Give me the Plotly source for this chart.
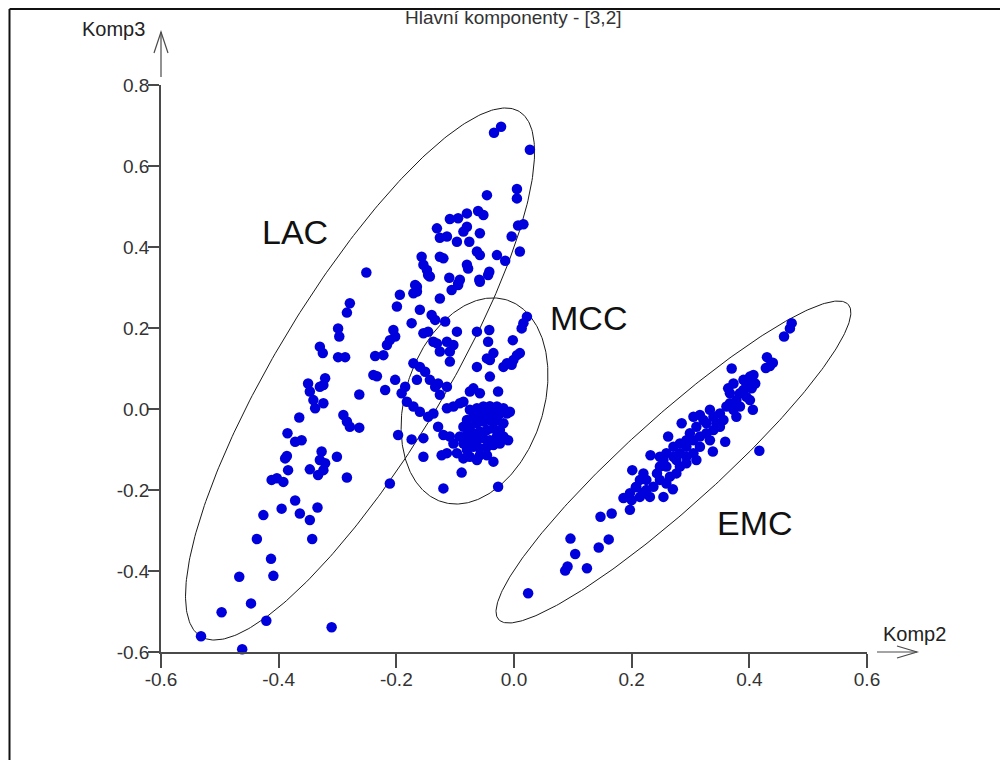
import numpy as np
import plotly.graph_objects as go

# ---------------- data (Komp2, Komp3) ----------------
EMC_x = [0.472, 0.469, 0.459, 0.430, 0.440, 0.428, 0.435, 0.370, 0.406, 0.417, 0.359, 0.338, 0.285, 0.262,
         0.232, 0.231, 0.254, 0.270, 0.201, 0.214, 0.219, 0.207, 0.186, 0.200, 0.197, 0.147, 0.166, 0.096,
         0.161, 0.144, 0.104, 0.091, 0.087, 0.124, 0.024,
         0.305, 0.316, 0.333, 0.339, 0.350, 0.361, 0.367, 0.373, 0.344, 0.327, 0.310, 0.299, 0.293, 0.282,
         0.305, 0.316, 0.327, 0.339, 0.350, 0.356, 0.378, 0.384, 0.395, 0.401, 0.390, 0.373, 0.367, 0.364,
         0.390, 0.404, 0.282, 0.271, 0.259, 0.254, 0.248, 0.243, 0.259, 0.276, 0.293, 0.305, 0.310, 0.293,
         0.282, 0.276, 0.265, 0.259, 0.248, 0.237, 0.220, 0.225, 0.208, 0.197, 0.214, 0.225, 0.316, 0.333,
         0.407, 0.410, 0.395, 0.401, 0.384, 0.378, 0.322, 0.293, 0.271, 0.248]
EMC_y = [0.212, 0.199, 0.179, 0.128, 0.114, 0.101, 0.106, 0.100, -0.002, -0.103, -0.081, -0.105, -0.035, -0.068,
         -0.114, -0.217, -0.217, -0.198, -0.151, -0.175, -0.207, -0.193, -0.220, -0.225, -0.249, -0.266, -0.258, -0.320,
         -0.322, -0.342, -0.358, -0.389, -0.399, -0.393, -0.455,
         -0.019, -0.015, -0.002, -0.019, -0.011, 0.006, 0.014, -0.002, -0.035, -0.035, -0.044, -0.060, -0.077, -0.085,
         -0.077, -0.068, -0.060, -0.052, -0.044, -0.027, 0.022, 0.039, 0.063, 0.080, 0.072, 0.063, 0.039, 0.051,
         0.047, 0.051, -0.109, -0.118, -0.109, -0.126, -0.142, -0.159, -0.142, -0.126, -0.118, -0.109, -0.126, -0.134,
         -0.142, -0.159, -0.167, -0.184, -0.175, -0.192, -0.159, -0.175, -0.192, -0.208, -0.217, -0.200, -0.093, -0.077,
         0.084, 0.063, 0.030, 0.022, 0.006, -0.019, -0.027, -0.093, -0.093, -0.118]

MCC_x = [0.022, 0.016, 0.013, -0.002, 0.005, 0.010, -0.001, -0.012, -0.018, -0.004, -0.042, -0.063, -0.044,
         -0.035, -0.041, -0.046, -0.063, -0.041, -0.027, -0.069, -0.075, -0.058, -0.097, -0.117, -0.109, -0.092,
         -0.103, -0.114, -0.086,
         -0.075, -0.063, -0.052, -0.041, -0.029, -0.018, -0.012, -0.007, -0.024, -0.035, -0.046, -0.058, -0.069,
         -0.080, -0.086, -0.075, -0.063, -0.052, -0.041, -0.029, -0.018, -0.024, -0.035, -0.046, -0.058, -0.069,
         -0.080, -0.092, -0.103, -0.086, -0.075, -0.063, -0.052, -0.041, -0.029, -0.018, -0.010, -0.024, -0.035,
         -0.046, -0.058, -0.069, -0.080, -0.075, -0.058, -0.046, -0.109, -0.120, -0.123, -0.114, -0.097, -0.086,
         -0.063, -0.035, -0.089, -0.120, -0.027]
MCC_y = [0.228, 0.212, 0.199, 0.170, 0.133, 0.138, 0.121, 0.113, 0.104, 0.109, 0.195, 0.191, 0.166,
         0.138, 0.121, 0.125, 0.104, 0.080, 0.043, 0.051, 0.043, 0.039, 0.191, 0.216, 0.117, 0.014,
         0.006, 0.002, 0.018,
         -0.002, 0.002, 0.006, 0.007, 0.006, 0.002, -0.011, -0.007, -0.011, -0.007, -0.011, -0.015, -0.019,
         -0.027, -0.044, -0.044, -0.035, -0.031, -0.027, -0.027, -0.035, -0.052, -0.048, -0.052, -0.056, -0.060,
         -0.064, -0.068, -0.085, -0.085, -0.081, -0.077, -0.072, -0.077, -0.068, -0.068, -0.077, -0.085, -0.089,
         -0.093, -0.097, -0.093, -0.101, -0.118, -0.114, -0.114, -0.068, -0.064, -0.114, -0.109, -0.109, -0.122,
         -0.126, -0.130, -0.157, -0.196, -0.192]

LAC_x = [-0.154, -0.174, -0.197, -0.154, -0.129, -0.137, -0.160, -0.146, -0.171, -0.182, -0.191, -0.185,
         -0.165, -0.143, -0.134, -0.129, -0.114, -0.126, -0.151, -0.160, -0.171, -0.131, -0.114, -0.103,
         -0.137, -0.126, -0.109, -0.154, -0.146, -0.140, -0.134, -0.160, -0.171, -0.165, -0.194, -0.199,
         -0.219, -0.202, -0.174, -0.126, -0.095, -0.058, -0.211,
         -0.022, -0.034, 0.027, 0.005, 0.005, -0.046, -0.061, -0.052, -0.080, -0.095, -0.109, 0.016, 0.007,
         -0.131, -0.080, -0.086, -0.058, -0.126, -0.114, -0.097, -0.076, -0.004, 0.010, -0.063, -0.058,
         -0.029, -0.015, -0.126, -0.120, -0.157, -0.154, -0.148, -0.146, -0.143, -0.080, -0.078, -0.042,
         -0.044, -0.110, -0.092, -0.095, -0.106, -0.059, -0.168, -0.165,
         -0.251, -0.279, -0.284, -0.299, -0.297, -0.205, -0.202, -0.211, -0.216, -0.222, -0.236, -0.330,
         -0.325, -0.299, -0.287, -0.239, -0.233, -0.321, -0.324, -0.330, -0.350, -0.347, -0.341, -0.338,
         -0.324, -0.263, -0.290, -0.284, -0.279, -0.263, -0.365, -0.385, -0.372, -0.361, -0.386, -0.389,
         -0.327, -0.330, -0.321, -0.301, -0.324, -0.333, -0.347, -0.384, -0.403, -0.412, -0.392, -0.284,
         -0.372, -0.426, -0.395, -0.364, -0.334, -0.347, -0.437, -0.343, -0.413, -0.467, -0.409, -0.447,
         -0.497, -0.421, -0.310, -0.532, -0.462]
LAC_y = [-0.072, -0.075, -0.064, -0.118, -0.044, -0.011, -0.007, -0.019, 0.006, 0.018, 0.039, 0.055,
         0.072, 0.072, 0.055, 0.063, 0.055, 0.035, 0.092, 0.104, 0.113, 0.162, 0.166, 0.158,
         0.166, 0.142, 0.142, 0.187, 0.191, 0.232, 0.220, 0.245, 0.286, 0.302, 0.282, 0.253,
         0.047, 0.072, 0.212, 0.273, 0.310, 0.314, -0.184,
         0.697, 0.682, 0.640, 0.543, 0.520, 0.528, 0.489, 0.479, 0.483, 0.471, 0.469, 0.456, 0.453,
         0.446, 0.450, 0.438, 0.434, 0.423, 0.426, 0.413, 0.413, 0.426, 0.389, 0.389, 0.380,
         0.380, 0.366, 0.376, 0.372, 0.376, 0.356, 0.343, 0.331, 0.327, 0.356, 0.347, 0.339,
         0.331, 0.324, 0.319, 0.306, 0.294, 0.319, 0.306, 0.290,
         0.337, 0.261, 0.238, 0.199, 0.179, 0.195, 0.179, 0.170, 0.158, 0.133, 0.131, 0.154,
         0.138, 0.128, 0.128, 0.084, 0.081, 0.076, 0.059, 0.055, 0.063, 0.043, 0.022, 0.002,
         0.014, 0.036, -0.015, -0.031, -0.044, -0.046, -0.021, -0.060, -0.081, -0.077, -0.116, -0.122,
         -0.105, -0.126, -0.134, -0.118, -0.151, -0.163, -0.149, -0.151, -0.171, -0.175, -0.180, -0.169,
         -0.226, -0.262, -0.246, -0.258, -0.243, -0.274, -0.321, -0.321, -0.370, -0.414, -0.412, -0.480,
         -0.502, -0.523, -0.539, -0.561, -0.593]

# ellipses: centre, first and second half-axis vectors (data units)
ELL_NAMES = ["LAC", "MCC", "EMC"]
ELL_CENTER = [(-0.2617, 0.0864), (-0.0671, 0.0198), (0.2710, -0.1309)]
ELL_AXIS1 = [(0.2707, 0.6481), (0.0559, 0.2489), (0.2972, 0.3889)]
ELL_AXIS2 = [(0.1213, -0.1069), (0.1116, -0.0531), (0.0511, -0.0825)]

# group labels
LABEL_TEXT = ["LAC", "MCC", "EMC"]
LABEL_X = [-0.372, 0.127, 0.409]
LABEL_Y = [0.437, 0.225, -0.281]

X_TICKS = [-0.6, -0.4, -0.2, 0.0, 0.2, 0.4, 0.6]
X_TICKTEXT = ["-0.6", "-0.4", "-0.2", "0.0", "0.2", "0.4", "0.6"]
Y_TICKS = [-0.6, -0.4, -0.2, 0.0, 0.2, 0.4, 0.6, 0.8]
Y_TICKTEXT = ["-0.6", "-0.4", "-0.2", "0.0", "0.2", "0.4", "0.6", "0.8"]

TITLE = "Hlavní komponenty - [3,2]"
XLABEL = "Komp2"
YLABEL = "Komp3"

FONT = "Liberation Sans, Arial, sans-serif"
AXIS_COLOR = "#4a4a4a"
DOT_COLOR = "#0000dd"

fig = go.Figure()

t = np.linspace(0, 2 * np.pi, 361)
for c, a1, a2 in zip(ELL_CENTER, ELL_AXIS1, ELL_AXIS2):
    ex = c[0] + a1[0] * np.cos(t) + a2[0] * np.sin(t)
    ey = c[1] + a1[1] * np.cos(t) + a2[1] * np.sin(t)
    fig.add_trace(go.Scatter(x=ex, y=ey, mode="lines",
                             line=dict(color="#1a1a1a", width=1), hoverinfo="skip"))

for xs, ys in [(LAC_x, LAC_y), (MCC_x, MCC_y), (EMC_x, EMC_y)]:
    fig.add_trace(go.Scatter(x=xs, y=ys, mode="markers", cliponaxis=False,
                             marker=dict(size=10.5, color=DOT_COLOR, line=dict(width=0))))

for txt, lx, ly in zip(LABEL_TEXT, LABEL_X, LABEL_Y):
    fig.add_annotation(x=lx, y=ly, xref="x", yref="y", text=txt, showarrow=False,
                       font=dict(family=FONT, size=34, color="#111111"))

# page offset (html body margin) and plot area in window pixels: x 161..867, y 85..652
OFF = 8
FIG_W, FIG_H = 1008 - OFF, 760 - OFF
L, R, T, B = 161, 867, 85, 652
W, H = R - L, B - T


def px(x):
    return (x - L) / W


def py(y):
    return (B - y) / H


shapes = []
# axis arrows
shapes.append(dict(type="line", xref="paper", yref="paper", x0=px(877), y0=py(652), x1=px(917), y1=py(652),
                   line=dict(color=AXIS_COLOR, width=1.2)))
shapes.append(dict(type="path", xref="paper", yref="paper",
                   path=f"M {px(897)} {py(646)} L {px(917)} {py(652)} L {px(897)} {py(658)}",
                   line=dict(color=AXIS_COLOR, width=1.2)))
shapes.append(dict(type="line", xref="paper", yref="paper", x0=px(161), y0=py(77), x1=px(161), y1=py(32),
                   line=dict(color=AXIS_COLOR, width=1.2)))
shapes.append(dict(type="path", xref="paper", yref="paper",
                   path=f"M {px(154)} {py(53)} L {px(161)} {py(32)} L {px(168)} {py(53)}",
                   line=dict(color=AXIS_COLOR, width=1.2)))
# frame (top and left)
shapes.append(dict(type="line", xref="paper", yref="paper", x0=px(9.5), y0=py(9), x1=px(1008), y1=py(9),
                   line=dict(color="#111111", width=2)))
shapes.append(dict(type="line", xref="paper", yref="paper", x0=px(9.5), y0=py(9), x1=px(9.5), y1=py(760),
                   line=dict(color="#111111", width=2)))

fig.add_annotation(x=px(513.5), y=py(17), xref="paper", yref="paper", text=TITLE, showarrow=False,
                   xanchor="center", yanchor="middle", font=dict(family=FONT, size=19, color="#333333"))
fig.add_annotation(x=px(113.5), y=py(29), xref="paper", yref="paper", text=YLABEL, showarrow=False,
                   xanchor="center", yanchor="middle", font=dict(family=FONT, size=20, color="#222222"))
fig.add_annotation(x=px(914), y=py(634), xref="paper", yref="paper", text=XLABEL, showarrow=False,
                   xanchor="center", yanchor="middle", font=dict(family=FONT, size=20, color="#222222"))

axis_common = dict(showgrid=False, zeroline=False, showline=True, linecolor=AXIS_COLOR, linewidth=1.5,
                   ticks="outside", tickcolor=AXIS_COLOR, tickwidth=1.5,
                   tickfont=dict(family=FONT, size=19, color="#333333"))

fig.update_layout(
    width=FIG_W, height=FIG_H,
    margin=dict(l=L - OFF, r=1008 - R, t=T - OFF, b=760 - B, autoexpand=False),
    paper_bgcolor="white", plot_bgcolor="white",
    showlegend=False,
    shapes=shapes,
    xaxis=dict(range=[-0.6, 0.6], tickvals=X_TICKS, ticktext=X_TICKTEXT, ticklen=14,
               ticklabelstandoff=-5, **axis_common),
    yaxis=dict(range=[-0.6, 0.8], tickvals=Y_TICKS, ticktext=Y_TICKTEXT, ticklen=11,
               ticklabelstandoff=-5, **axis_common),
)

fig.write_html("out.html")
